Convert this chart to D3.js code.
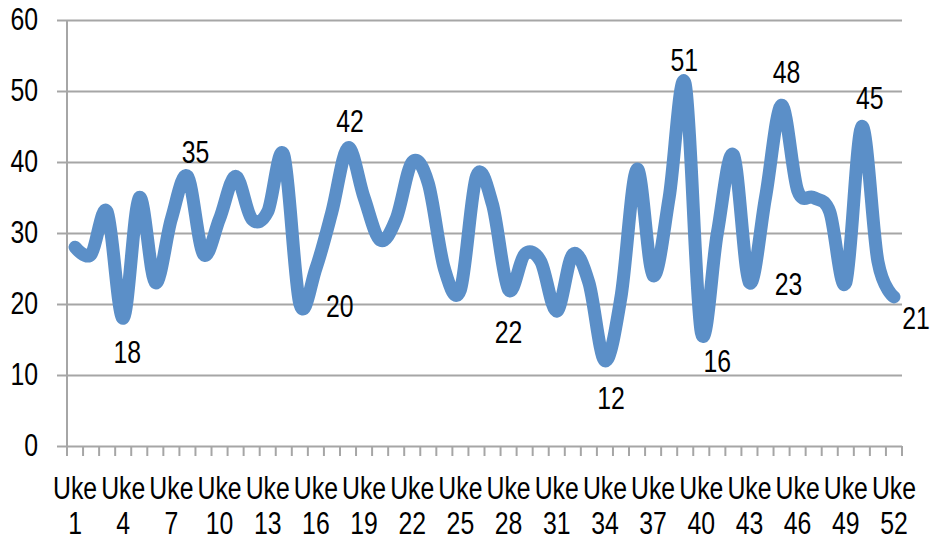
<!DOCTYPE html>
<html>
<head>
<meta charset="utf-8">
<script src="https://cdn.jsdelivr.net/npm/d3@7"></script>
<style>
    body { margin: 0; background: #fff; }
    text { font-family: "Liberation Sans", Arial, sans-serif; fill: #000; }
</style>
</head>
<body>
<svg width="933" height="542"></svg>
<script>
const width = 933
const height = 542
const margin = { top: 20, right: 31, bottom: 96, left: 67 }
const squeeze = 0.8 // narrow font look
const fontSize = 31

// weekly values, Uke 1 .. Uke 52
const weeks = d3.range(1, 53)
const values = [
    28, 27, 33, 18, 35, 23, 32, 38, 27, 32,
    38, 32, 33, 41, 20, 25, 33, 42, 35, 29,
    32, 40, 37, 25, 22, 38, 34, 22, 27, 26,
    19, 27, 23, 12, 21, 39, 24, 35, 51, 16,
    30, 41, 23, 35, 48, 36, 35, 33, 23, 45,
    26, 21
]
const yTicks = [0, 10, 20, 30, 40, 50, 60]
const labelWeeks = [4, 8, 15, 18, 28, 34, 39, 40, 43, 45, 50, 52]
const labelTexts = ['18', '35', '20', '42', '22', '12', '51', '16', '23', '48', '45', '21']

document.addEventListener("DOMContentLoaded", function () {

    const data = weeks.map((w, i) => ({ week: w, value: values[i] }))

    const x = d3.scaleBand()
        .domain(weeks)
        .range([margin.left, width - margin.right])
        .padding(0)

    const y = d3.scaleLinear()
        .domain([0, 60])
        .range([height - margin.bottom, margin.top])

    const cx = w => x(w) + x.bandwidth() / 2

    const svg = d3.select('svg')

    // gridlines + y axis
    svg.append("g")
        .attr("class", "y-axis")
        .attr("transform", `translate(${margin.left},0)`)
        .call(d3.axisLeft(y).tickValues(yTicks).tickSize(10).tickPadding(19))
        .call(g => g.select(".domain").remove())
        .call(g => g.selectAll(".tick line").clone()
            .attr("x2", width - margin.left - margin.right))
        .call(g => g.selectAll(".tick line").attr("stroke", "#a6a6a6").attr("stroke-width", 2))
        .call(g => g.selectAll(".tick text")
            .attr("font-size", fontSize).attr("fill", "#000")
            .attr("x", -29 / squeeze)
            .attr("transform", `scale(${squeeze},1)`))

    // vertical axis line
    svg.append("line")
        .attr("x1", margin.left).attr("x2", margin.left)
        .attr("y1", y(60)).attr("y2", y(0))
        .attr("stroke", "#a6a6a6").attr("stroke-width", 2)

    // x axis: ticks between categories
    const xg = svg.append("g").attr("class", "x-axis")
    const bounds = weeks.map(w => x(w)).concat([width - margin.right])
    xg.selectAll("line.tk")
        .data(bounds)
        .join("line")
        .attr("class", "tk")
        .attr("x1", d => d).attr("x2", d => d)
        .attr("y1", y(0)).attr("y2", y(0) + 10)
        .attr("stroke", "#a6a6a6").attr("stroke-width", 2)

    const xl = xg.selectAll("text")
        .data(weeks.filter(w => (w - 1) % 3 === 0))
        .join("text")
        .attr("text-anchor", "middle")
        .attr("font-size", fontSize)
        .attr("transform", d => `translate(${cx(d)},0) scale(${squeeze},1)`)
    xl.append("tspan")
        .attr("x", 0).attr("y", 499)
        .text("Uke")
    xl.append("tspan")
        .attr("x", 0).attr("y", 534)
        .text(d => d)

    // the line
    const line = d3.line()
        .x(d => cx(d.week))
        .y(d => y(d.value))
        .curve(d3.curveCatmullRom.alpha(0))

    svg.append("path")
        .datum(data)
        .attr("fill", "none")
        .attr("stroke", "#5b8fc8")
        .attr("stroke-width", 13)
        .attr("stroke-linecap", "round")
        .attr("stroke-linejoin", "round")
        .attr("d", line)

    // hand placed data labels: offset from the point [dx, dy]
    const nudge = {
        4: [4, 34], 8: [8, -24], 15: [40, 2], 18: [2, -27], 28: [0, 42], 34: [6, 37],
        39: [-1, -24], 40: [16, 29], 43: [39, 1], 45: [5, -33], 50: [8, -28], 52: [22, 21]
    }

    svg.append("g")
        .attr("class", "labels")
        .selectAll("text")
        .data(labelWeeks)
        .join("text")
        .attr("transform", w => `translate(${cx(w) + nudge[w][0]},${y(values[w - 1]) + nudge[w][1]}) scale(${squeeze},1)`)
        .attr("dy", "0.35em")
        .attr("text-anchor", "middle")
        .attr("font-size", fontSize)
        .text((w, i) => labelTexts[i])
})
</script>
</body>
</html>
